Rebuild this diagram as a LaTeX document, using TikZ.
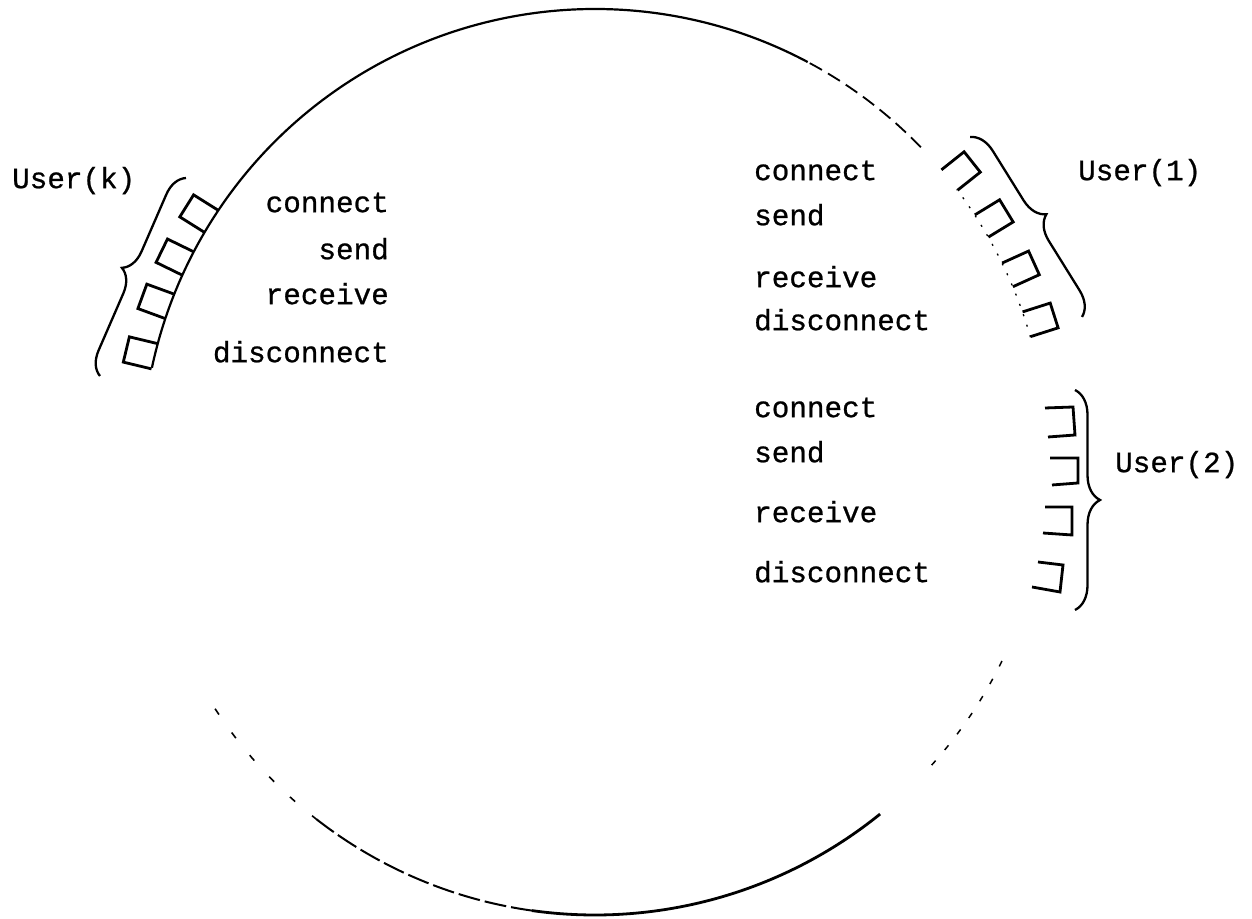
\documentclass[tikz,border=0pt]{standalone}
\usepackage{fontspec}
\newfontfamily\cour[FakeBold=0.8]{Liberation Mono}
\usetikzlibrary{decorations.pathreplacing}
\begin{document}
\begin{tikzpicture}[x=1pt,y=1pt,
  lbl/.style={font=\cour\fontsize{29.3}{35}\selectfont, inner sep=0pt},
  ring/.style={line width=2.2pt},
  port/.style={line width=2.8pt, line join=miter},
  ubrace/.style={decorate, decoration={brace, amplitude=#1}, line width=2.3pt},
]
\useasboundingbox (0,0) rectangle (1252,918);
\coordinate (c) at (595,456);
% ring: visible portions of the scanned circle
\draw[ring] (c) ++(62:453) arc[start angle=62, end angle=168, radius=453];
\draw[line width=1.8pt, dash pattern=on 14pt off 7pt] (c) ++(44:453) arc[start angle=44, end angle=62, radius=453];
\draw[line width=1.3pt, dash pattern=on 2pt off 9pt] (c) ++(16:453) arc[start angle=16, end angle=37, radius=453];
\draw[line width=1.6pt, dash pattern=on 7pt off 22pt] (c) ++(213:453) arc[start angle=213, end angle=232, radius=453];
\draw[line width=2pt, dash pattern=on 22pt off 5pt] (c) ++(232:453) arc[start angle=232, end angle=262, radius=453];
\draw[line width=2.8pt] (c) ++(262:453) arc[start angle=262, end angle=309, radius=453];
\draw[line width=1.5pt, dash pattern=on 6pt off 14pt] (c) ++(318:453) arc[start angle=318, end angle=334, radius=453];
% User(k) ports
\foreach \a in {147.9,154,159.9,166.5} {
  \begin{scope}[shift={(c)}, rotate=\a]
    \draw[port] (453,-13) -- (482,-13) -- (482,13) -- (453,13);
  \end{scope}
}
% User(1) ports
\foreach \a in {38.5,31.4,24.4,17.7} {
  \begin{scope}[shift={(c)}, rotate=\a]
    \draw[port] (453,-13) -- (482,-13) -- (482,13) -- (453,13);
  \end{scope}
}
% User(2) ports
\draw[port] (1045,510) -- (1073,511) -- (1075,483) -- (1048,481);
\draw[port] (1050,460) -- (1078,460) -- (1078,435) -- (1052,433);
\draw[port] (1045,411) -- (1072,411) -- (1072,383) -- (1043,385);
\draw[port] (1038,356) -- (1063,353) -- (1060,326) -- (1032,331);
% braces
\coordinate (kb0) at (100,542); \coordinate (kb1) at (186,740);
\coordinate (ob0) at (970,781); \coordinate (ob1) at (1082,601);
\coordinate (tb0) at (1075,528); \coordinate (tb1) at (1075,308);
\draw[ubrace=23pt] (kb0) -- (kb1);
\draw[ubrace=24pt] (ob0) -- (ob1);
\draw[ubrace=25pt] (tb0) -- (tb1);
% labels
\node[lbl, anchor=mid west] (uk) at (12,732) {User(k)};
\node[lbl, anchor=mid east] (kc) at (389,708) {connect};
\node[lbl, anchor=mid east] (ks) at (389,661) {send};
\node[lbl, anchor=mid east] (kr) at (389,616) {receive};
\node[lbl, anchor=mid east] (kd) at (389,558) {disconnect};
\node[lbl, anchor=mid west] (u1) at (1078,740) {User(1)};
\node[lbl, anchor=mid west] (oc) at (754,740) {connect};
\node[lbl, anchor=mid west] (os) at (754,695) {send};
\node[lbl, anchor=mid west] (or) at (754,633) {receive};
\node[lbl, anchor=mid west] (od) at (754,590) {disconnect};
\node[lbl, anchor=mid west] (u2) at (1115,448) {User(2)};
\node[lbl, anchor=mid west] (tc) at (754,503) {connect};
\node[lbl, anchor=mid west] (ts) at (754,458) {send};
\node[lbl, anchor=mid west] (tr) at (754,398) {receive};
\node[lbl, anchor=mid west] (td) at (754,338) {disconnect};
\end{tikzpicture}
\end{document}
